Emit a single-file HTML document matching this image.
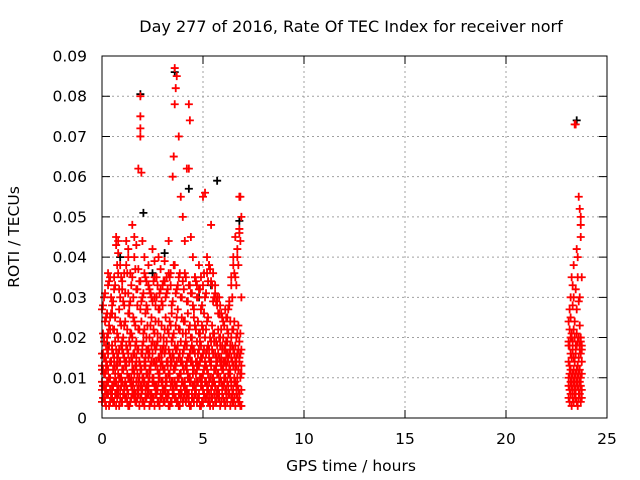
<!DOCTYPE html>
<html><head><meta charset="utf-8"><style>
body{margin:0;background:#fff}
svg{display:block;font-family:"DejaVu Sans","Liberation Sans",sans-serif}
</style></head><body>
<svg id="chart" width="640" height="480" viewBox="0 0 640 480">
<text x="351" y="32" font-size="16" text-anchor="middle">Day 277 of 2016, Rate Of TEC Index for receiver norf</text>
<text transform="translate(19,237) rotate(-90)" font-size="15.5" text-anchor="middle">ROTI / TECUs</text>
<text x="351" y="471" font-size="15.5" text-anchor="middle">GPS time / hours</text>
<g id="grid"></g>
<g id="ticks"></g>
<g id="black"></g>
<g id="red"></g>
<rect x="102" y="56" width="505" height="362" fill="none" stroke="#000" stroke-width="1"/>
</svg>
<script>
const xTicks=[0,5,10,15,20,25];
const yTicks=[0,0.01,0.02,0.03,0.04,0.05,0.06,0.07,0.08,0.09];
const yTickLabels=["0","0.01","0.02","0.03","0.04","0.05","0.06","0.07","0.08","0.09"];
const times=[0,0.1,0.2,0.3,0.4,0.5,0.6,0.7,0.8,0.9,1,1.1,1.2,1.3,1.4,1.5,1.6,1.7,1.8,1.9,2,2.1,2.2,2.3,2.4,2.5,2.6,2.7,2.8,2.9,3,3.1,3.2,3.3,3.4,3.5,3.6,3.7,3.8,3.9,4,4.1,4.2,4.3,4.4,4.5,4.6,4.7,4.8,4.9,5,5.1,5.2,5.3,5.4,5.5,5.6,5.7,5.8,5.9,6,6.1,6.2,6.3,6.4,6.5,6.6,6.7,6.8,6.9];
const a1=[.004,.005,.003,.006,.004,.005,.004,.003,.006,.005,.004,.006,.005,.003,.004,.006,.005,.004,.007,.005,.004,.003,.005,.006,.004,.005,.003,.006,.004,.005,.006,.004,.005,.003,.004,.006,.005,.004,.003,.005,.004,.006,.005,.004,.003,.005,.006,.004,.005,.003,.004,.005,.006,.004,.005,.003,.004,.006,.005,.004,.005,.003,.004,.006,.005,.004,.003,.005,.004,.003];
const a6=[.007,.008,.006,.009,.007,.008,.009,.006,.008,.007,.009,.007,.008,.006,.009,.008,.007,.009,.006,.008,.007,.009,.008,.007,.006,.009,.008,.007,.009,.006,.008,.007,.009,.006,.008,.007,.009,.008,.006,.007,.009,.008,.007,.006,.009,.008,.007,.009,.006,.008,.007,.009,.008,.006,.007,.009,.008,.007,.006,.009,.008,.007,.009,.006,.008,.007,.009,.008,.006,.007];
const a2=[.009,.011,.008,.012,.010,.007,.013,.009,.011,.010,.012,.008,.014,.010,.009,.012,.011,.013,.009,.012,.010,.013,.011,.009,.012,.010,.014,.008,.011,.013,.009,.012,.010,.011,.013,.009,.012,.014,.010,.011,.013,.009,.012,.010,.014,.011,.009,.012,.013,.010,.011,.014,.012,.009,.013,.010,.012,.011,.009,.013,.012,.010,.014,.011,.009,.013,.012,.010,.014,.011];
const a7=[.013,.015,.012,.016,.014,.017,.015,.013,.016,.014,.017,.015,.013,.016,.018,.014,.016,.015,.017,.013,.016,.014,.017,.015,.013,.016,.018,.014,.015,.017,.013,.016,.014,.017,.015,.016,.013,.017,.015,.014,.016,.018,.014,.015,.017,.013,.016,.014,.017,.015,.016,.013,.017,.015,.014,.016,.012,.014,.015,.013,.012,.014,.016,.013,.015,.017,.014,.016,.015,.013];
const a3=[.016,.019,.014,.021,.025,.018,.022,.017,.020,.024,.019,.023,.018,.026,.021,.020,.024,.019,.022,.027,.018,.022,.020,.017,.023,.019,.021,.018,.024,.020,.017,.022,.019,.021,.023,.020,.018,.025,.022,.019,.021,.024,.018,.022,.020,.017,.023,.019,.021,.018,.022,.020,.024,.017,.019,.021,.016,.018,.020,.015,.014,.017,.019,.016,.020,.022,.018,.021,.019,.017];
const a4=[.027,.030,.025,.033,.035,.028,.032,.043,.036,.030,.034,.028,.038,.031,.029,.035,.040,.032,.037,.034,.030,.036,.028,.033,.031,.029,.035,.030,.027,.032,.028,.034,.031,.036,.033,.029,.038,.032,.035,.030,.034,.036,.029,.033,.031,.028,.035,.030,.032,.027,.033,.030,.036,.038,.034,.029,.031,.028,.030,.026,.024,.027,.025,.029,.033,.038,.035,.040,.046,.030];
const a5=[.012,.020,.018,.036,.022,.026,.035,.045,.044,.038,.032,.036,.044,.040,.036,.048,.045,.043,.062,.075,.044,.040,.034,.038,.031,.042,.030,.035,.040,.037,.033,.039,.035,.044,.036,.060,.087,.085,.070,.055,.050,.044,.062,.078,.045,.040,.035,.033,.038,.035,.055,.056,.040,.038,.048,.036,.033,.030,.026,.022,.020,.018,.022,.028,.035,.040,.045,.042,.055,.050];
const times2=[0.05,0.15,0.25,0.35,0.45,0.55,0.65,0.75,0.85,0.95,1.05,1.15,1.25,1.35,1.45,1.55,1.65,1.75,1.85,1.95,2.05,2.15,2.25,2.35,2.45,2.55,2.65,2.75,2.85,2.95,3.05,3.15,3.25,3.35,3.45,3.55,3.65,3.75,3.85,3.95,4.05,4.15,4.25,4.35,4.45,4.55,4.65,4.75,4.85,4.95,5.05,5.15,5.25,5.35,5.45,5.55,5.65,5.75,5.85,5.95,6.05,6.15,6.25,6.35,6.45,6.55,6.65,6.75,6.85];
const c1=[.005,.004,.006,.003,.005,.004,.006,.005,.003,.004,.006,.005,.004,.003,.005,.006,.004,.005,.003,.006,.004,.005,.006,.003,.004,.005,.006,.004,.003,.005,.004,.006,.005,.003,.004,.006,.005,.004,.003,.006,.005,.004,.006,.003,.005,.004,.006,.005,.003,.004,.006,.005,.004,.003,.005,.006,.004,.005,.003,.006,.004,.005,.006,.003,.004,.005,.006,.004,.003];
const c2=[.008,.007,.009,.010,.006,.008,.009,.007,.010,.008,.006,.009,.007,.010,.008,.009,.006,.007,.010,.008,.009,.007,.008,.010,.006,.009,.008,.007,.010,.009,.007,.008,.006,.010,.009,.007,.008,.010,.006,.009,.008,.007,.010,.009,.006,.008,.007,.009,.010,.008,.006,.009,.007,.010,.008,.009,.006,.007,.010,.008,.009,.007,.008,.010,.006,.009,.008,.007,.010];
const c3=[.012,.011,.013,.010,.014,.012,.011,.013,.014,.010,.012,.013,.011,.014,.010,.012,.013,.011,.014,.012,.010,.013,.011,.012,.014,.010,.013,.012,.011,.014,.012,.010,.013,.011,.014,.012,.013,.010,.011,.014,.012,.013,.011,.010,.014,.012,.011,.013,.014,.010,.012,.013,.011,.014,.010,.012,.013,.011,.014,.012,.010,.013,.011,.012,.014,.010,.013,.012,.011];
const c4=[.016,.015,.017,.018,.014,.016,.019,.015,.017,.018,.016,.014,.017,.019,.015,.016,.018,.017,.014,.016,.019,.015,.017,.016,.018,.014,.017,.019,.015,.016,.018,.017,.014,.016,.019,.015,.017,.018,.016,.014,.017,.019,.015,.016,.018,.017,.014,.016,.019,.015,.017,.016,.018,.014,.017,.019,.015,.016,.018,.017,.014,.016,.015,.017,.018,.016,.015,.017,.016];
const c5=[.021,.024,.020,.023,.026,.022,.025,.021,.027,.023,.020,.024,.022,.026,.021,.025,.023,.028,.022,.024,.021,.026,.023,.020,.025,.022,.024,.021,.027,.023,.020,.025,.022,.024,.026,.021,.023,.027,.022,.025,.024,.021,.026,.023,.020,.025,.022,.024,.021,.023,.026,.022,.025,.020,.023,.021,.019,.022,.020,.018,.017,.019,.021,.018,.022,.024,.020,.023,.021];
const c6=[.028,.031,.026,.034,.030,.029,.033,.038,.032,.035,.029,.031,.036,.028,.033,.030,.037,.032,.034,.029,.031,.035,.027,.032,.030,.034,.028,.033,.031,.029,.034,.030,.032,.035,.028,.038,.031,.033,.036,.030,.032,.035,.029,.033,.031,.027,.034,.030,.032,.028,.036,.031,.034,.037,.033,.030,.029,.026,.028,.025,.023,.025,.027,.024,.030,.036,.033,.038,.044];
const lateTimes=[23.1,23.15,23.2,23.25,23.3,23.35,23.4,23.45,23.5,23.55,23.6,23.65,23.7,23.75];
const b1=[.005,.004,.006,.003,.005,.004,.006,.005,.004,.003,.005,.006,.004,.005];
const b5=[.008,.007,.009,.008,.007,.009,.008,.007,.009,.008,.007,.009,.008,.007];
const b6=[.010,.011,.012,.010,.011,.012,.010,.011,.012,.010,.011,.012,.010,.011];
const b2=[.014,.013,.016,.015,.017,.015,.014,.016,.018,.013,.015,.017,.016,.014];
const b7=[.019,.018,.020,.021,.019,.022,.020,.018,.021,.019,.020,.018,.019,.017];
const b3=[.018,.022,.025,.020,.028,.030,.024,.032,.027,.035,.029,.023,.020,.018];
const b4=[.024,.027,.030,.035,.033,.038,.073,.073,.042,.040,.055,.052,.048,.035];
const extraT=[1.9,1.9,1.9,1.95,3.6,3.65,3.55,4.35,4.3,0.8,1.3,2.6,6.85,6.8,23.7,23.7,23.65];
const extraV=[.080,.072,.070,.061,.078,.082,.065,.074,.062,.041,.042,.039,.055,.047,.050,.045,.030];
const blackT=[1.9,3.6,4.3,5.7,0.9,2.5,3.1,6.8,23.5,0.3,4.8,2.05,5.4];
const blackV=[.0805,.086,.057,.059,.040,.036,.041,.049,.074,.018,.030,.051,.033];

const X=v=>102+v*(505/25);
const Y=v=>418-v*(362/0.09);
const NS="http://www.w3.org/2000/svg";
const grid=document.getElementById('grid'),ticks=document.getElementById('ticks');
function mk(tag,attrs,parent){const e=document.createElementNS(NS,tag);for(const k in attrs)e.setAttribute(k,attrs[k]);parent.appendChild(e);return e;}
xTicks.forEach((t,i)=>{
  if(i>0&&i<xTicks.length-1){const g=mk('line',{x1:X(t),x2:X(t),y1:56,y2:418,stroke:'#a0a0a0','stroke-dasharray':'2,3'},grid);
  
  }
  const tk=mk('path',{d:`M${X(t)},418v-8M${X(t)},56v8`,stroke:'#000'},ticks);
  
  
  const l=mk('text',{x:X(t),y:444,'font-size':15.5,'text-anchor':'middle'},ticks);l.textContent=t;
  
  
});
yTicks.forEach((t,i)=>{
  if(i>0&&i<yTicks.length-1){const g=mk('line',{x1:102,x2:607,y1:Y(t),y2:Y(t),stroke:'#a0a0a0','stroke-dasharray':'2,3'},grid);
  
  }
  const tk=mk('path',{d:`M102,${Y(t)}h8M607,${Y(t)}h-8`,stroke:'#000'},ticks);
  
  
  const l=mk('text',{x:87,y:Y(t)+5.5,'font-size':15.5,'text-anchor':'end'},ticks);l.textContent=yTickLabels[i];
  
  
});
function plus(g,t,v,col){
  if(v===undefined)return;
  const p=mk('path',{d:`M${X(t)-4},${Y(v)}h8M${X(t)},${Y(v)-4}v8`,stroke:col,'stroke-width':1.8},g);
  
  
}
const bg=document.getElementById('black'),rg=document.getElementById('red');
blackT.forEach((t,i)=>plus(bg,t,blackV[i],'#000'));
[a1,a6,a2,a7,a3,a4,a5].forEach(arr=>times.forEach((t,i)=>plus(rg,t,arr[i],'#ff0000')));
[c1,c2,c3,c4,c5,c6].forEach(arr=>times2.forEach((t,i)=>plus(rg,t,arr[i],'#ff0000')));
[b1,b5,b6,b2,b7,b3,b4].forEach(arr=>lateTimes.forEach((t,i)=>plus(rg,t,arr[i],'#ff0000')));
extraT.forEach((t,i)=>plus(rg,t,extraV[i],'#ff0000'));
</script>
</body></html>
